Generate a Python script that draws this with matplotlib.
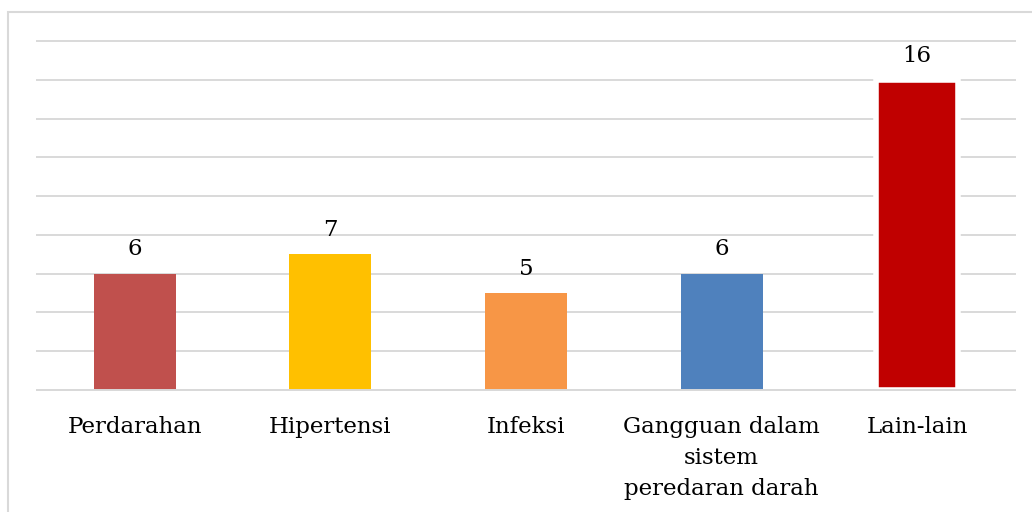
import numpy as np
import matplotlib.pyplot as plt
from matplotlib.patches import Rectangle

categories = ["Perdarahan", "Hipertensi", "Infeksi",
              "Gangguan dalam\nsistem\nperedaran darah", "Lain-lain"]
values = [6, 7, 5, 6, 16]
colors = ["#C0504D", "#FFC000", "#F79646", "#4F81BD", "#C00000"]

plt.rcParams['font.family'] = ['DejaVu Serif']

fig = plt.figure(figsize=(10.32, 5.12), dpi=100)
# outer chart border
fig.patches.append(Rectangle((8 / 1032, -0.1), 1.2, (512 - 12) / 512 + 0.1,
                             transform=fig.transFigure, fill=False,
                             edgecolor="#D9D9D9", linewidth=1.5))

ax = fig.add_axes([37 / 1032, 122 / 512, 978 / 1032, 349 / 512])
x = np.arange(len(categories))
bars = ax.bar(x, values, width=0.42, color=colors, zorder=2)
# last bar has a white outline that breaks the gridlines
bars[-1].set_edgecolor("white")
bars[-1].set_linewidth(4.0)

ax.set_xlim(-0.5, len(categories) - 0.5)
ax.set_ylim(0, 18)
ax.set_yticks(np.arange(0, 19, 2))
ax.yaxis.grid(True, color="#D9D9D9", linewidth=1.4, zorder=0)
for gl in ax.get_ygridlines():
    gl.set_clip_on(False)
ax.set_axisbelow(True)
ax.tick_params(axis="y", left=False, labelleft=False)
ax.tick_params(axis="x", bottom=False, pad=15)
ax.set_xticks(x)
ax.set_xticklabels(categories, fontsize=16.5, linespacing=1.55, va="top")
for s in ["left", "right", "top"]:
    ax.spines[s].set_visible(False)
ax.spines["bottom"].set_color("#D9D9D9")
ax.spines["bottom"].set_linewidth(1.4)
ax.spines["bottom"].set_zorder(3)

for xi, v in zip(x, values):
    ax.annotate(str(v), (xi, v), xytext=(0, 9.5), textcoords="offset points",
                ha="center", va="bottom", fontsize=16.5)

fig.savefig("out.png", dpi=100)
